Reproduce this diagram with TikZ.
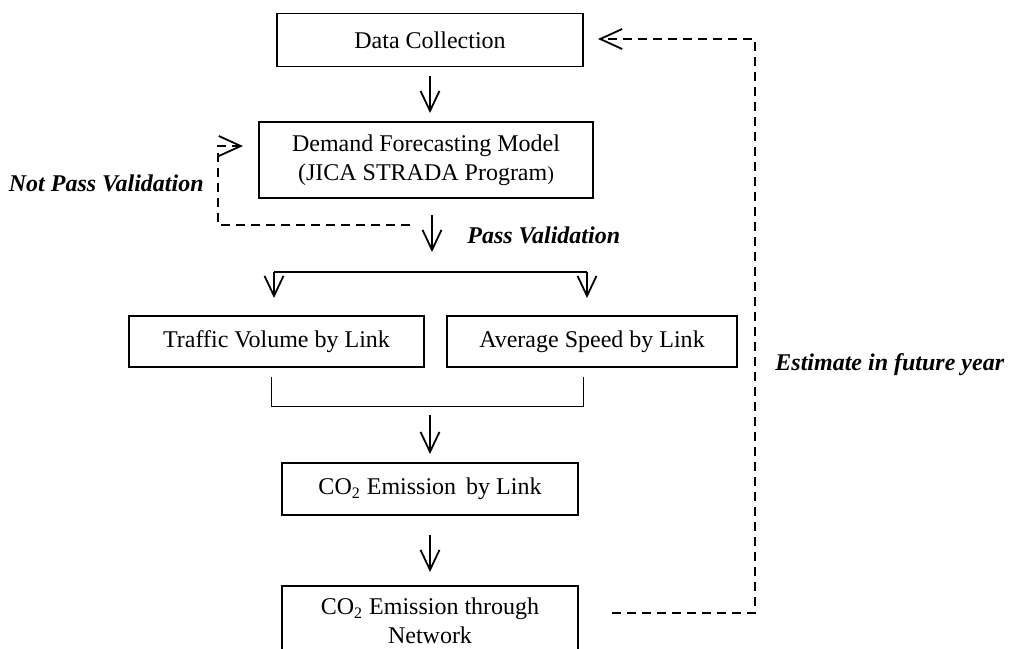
\documentclass[tikz,border=0pt]{standalone}
\usepackage{fontspec}
\setmainfont{Liberation Serif}
\usetikzlibrary{arrows.meta}
\begin{document}
\begin{tikzpicture}[x=0.5pt,y=-0.5pt,
  txt/.style={font=\fontsize{12}{14.4}\selectfont},
  box/.style={txt,draw,line width=0.9pt,inner sep=0pt,align=center},
  lbl/.style={font=\fontsize{12}{14.4}\selectfont\bfseries\itshape,inner sep=0pt},
  arr/.style={line width=0.9pt,-{Straight Barb[length=10pt,width=9.5pt,line width=0.9pt]}},
  darr/.style={line width=0.9pt,dash pattern=on 4.5pt off 3pt,-{Straight Barb[length=11pt,width=10pt,line width=0.9pt]}},
  dline/.style={line width=0.9pt,dash pattern=on 4.5pt off 3pt}]
\useasboundingbox (0,0) rectangle (1016,648);
\fill[white] (0,0) rectangle (1016,648);
\clip (0,0) rectangle (1016,648);

% boxes
\node[box,minimum width=153pt,minimum height=26.5pt] (dc) at (430,40) {Data Collection};
\node[box,minimum width=167pt,minimum height=38pt] (dfm) at (426,160)
  {Demand Forecasting Model\\(JICA STRADA Program{\fontsize{10}{12}\selectfont)}};
\node[box,minimum width=147.5pt,minimum height=25.5pt] (tv) at (276.5,341.5) {Traffic Volume by Link};
\node[box,minimum width=145pt,minimum height=25.5pt] (as) at (592,341.5) {Average Speed by Link};
\node[box,minimum width=148pt,minimum height=26pt] (co2l) at (430,489) {CO\textsubscript{2}\ Emission\, by Link};
\node[box,minimum width=148pt,minimum height=35pt] (co2n) at (430,621) {CO\textsubscript{2} Emission through\\Network};

% labels
\node[lbl,anchor=east] (np) at (204,183) {Not Pass Validation};
\node[lbl,anchor=west] (pv) at (467,235) {Pass Validation};
\node[lbl,anchor=west] (ef) at (775,365) {Estimate in future year};

% coordinates
\coordinate (a1s) at (430,76);
\coordinate (a1e) at (430,113);
\coordinate (p1) at (432,215);
\coordinate (p2) at (432,252);
\coordinate (bl) at (274,272);
\coordinate (br) at (587,272);
\coordinate (blt) at (274,298);
\coordinate (brt) at (587,298);
\coordinate (n1) at (410,225);
\coordinate (n2) at (218,225);
\coordinate (n3) at (218,146);
\coordinate (n4) at (243,146);
\coordinate (k1) at (271,377);
\coordinate (k2) at (271,406);
\coordinate (k3) at (583,406);
\coordinate (k4) at (583,377);
\coordinate (c1s) at (430,415);
\coordinate (c1e) at (430,454);
\coordinate (c2s) at (430,535);
\coordinate (c2e) at (430,572);
\coordinate (r1) at (612,613);
\coordinate (r2) at (755,613);
\coordinate (r3) at (755,39);
\coordinate (r4) at (598,39);

% connectors
\draw[arr] (a1s) -- (a1e);
\draw[arr] (p1) -- (p2);
\draw[line width=1.4pt] (bl) -- (br);
\draw[arr] (bl) -- (blt);
\draw[arr] (br) -- (brt);
\draw[darr] (n1) -- (n2) -- (n3) -- (n4);
\draw[line width=0.5pt] (k1) -- (k2) -- (k3) -- (k4);
\draw[arr] (c1s) -- (c1e);
\draw[arr] (c2s) -- (c2e);
\draw[darr] (r1) -- (r2) -- (r3) -- (r4);
\end{tikzpicture}
\end{document}
